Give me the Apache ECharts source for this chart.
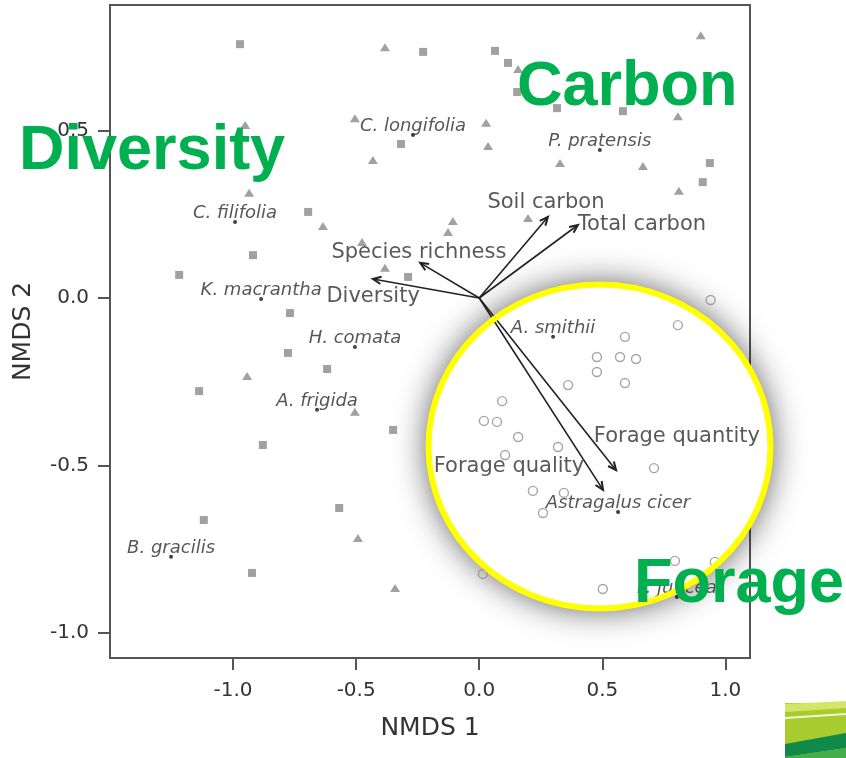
<!DOCTYPE html>
<html>
<head>
<meta charset="utf-8">
<script src="https://cdn.jsdelivr.net/npm/echarts@6/dist/echarts.min.js"></script>
<style>
  html, body { margin: 0; padding: 0; background: #fff; }
  #chart { width: 846px; height: 758px; }
</style>
</head>
<body>
<div id="chart"></div>
<script>
// Axis tick values
const xTicks = [-1.0, -0.5, 0.0, 0.5, 1.0];
const yTicks = [-1.0, -0.5, 0.0, 0.5];

// Site scores (NMDS 1, NMDS 2) by group
const squareSites = [
  [-0.972, 0.758], [-0.228, 0.735], [0.064, 0.738], [0.117, 0.702], [0.154, 0.615],
  [0.316, 0.567], [0.584, 0.558], [0.937, 0.403], [0.908, 0.346], [-0.318, 0.460],
  [-0.695, 0.257], [-0.919, 0.128], [-1.219, 0.069], [-0.289, 0.063], [-0.769, -0.045],
  [-0.777, -0.164], [-0.618, -0.212], [-1.138, -0.278], [-0.350, -0.394], [-0.879, -0.439],
  [-1.119, -0.663], [-0.569, -0.627], [-0.923, -0.821]
];
const triangleSites = [
  [-0.383, 0.749], [0.900, 0.785], [0.158, 0.684], [0.028, 0.523], [0.036, 0.454],
  [0.328, 0.403], [0.665, 0.394], [0.807, 0.543], [0.811, 0.320], [0.198, 0.239],
  [-0.951, 0.517], [-0.505, 0.537], [-0.432, 0.412], [-0.935, 0.314], [-0.635, 0.215],
  [-0.476, 0.167], [-0.383, 0.090], [-0.107, 0.230], [-0.127, 0.197], [-0.943, -0.233],
  [-0.505, -0.340], [-0.493, -0.717], [-0.342, -0.866]
];
const circleSites = [
  [0.940, -0.006], [0.807, -0.081], [0.592, -0.116], [0.478, -0.176], [0.572, -0.176],
  [0.637, -0.182], [0.478, -0.221], [0.592, -0.254], [0.361, -0.260], [0.093, -0.308],
  [0.019, -0.367], [0.072, -0.370], [0.158, -0.415], [0.320, -0.445], [0.105, -0.469],
  [0.710, -0.508], [0.218, -0.576], [0.344, -0.582], [0.259, -0.642], [0.015, -0.824],
  [0.502, -0.869], [0.795, -0.785], [0.957, -0.788]
];

// Species scores
const speciesNames = [
  'C. longifolia', 'P. pratensis', 'C. filifolia', 'K. macrantha', 'H. comata',
  'A. frigida', 'A. smithii', 'Astragalus cicer', 'B. gracilis', 'P. juncea'
];
const speciesScores = [
  [-0.269, 0.487], [0.490, 0.442], [-0.992, 0.227], [-0.886, -0.003], [-0.505, -0.146],
  [-0.659, -0.334], [0.300, -0.116], [0.564, -0.639], [-1.252, -0.773], [0.803, -0.893]
];

// Fitted environmental vectors
const vectorNames = [
  'Diversity', 'Species richness', 'Soil carbon', 'Total carbon', 'Forage quantity', 'Forage quality'
];
const vectorEnds = [
  [-0.432, 0.057], [-0.240, 0.105], [0.279, 0.242], [0.401, 0.218], [0.556, -0.514], [0.503, -0.573]
];
const vectorLabelAt = [
  [-0.431, 0.003], [-0.245, 0.137], [0.271, 0.284], [0.661, 0.218], [0.803, -0.415], [0.121, -0.502]
];

const plotFont = 'DejaVu Sans';
const markGray = '#8a8a8a';
const headFont = 'bold 63px "Liberation Sans", Arial, sans-serif';

const chart = echarts.init(document.getElementById('chart'), null, { renderer: 'canvas' });

const option = {
  backgroundColor: '#ffffff',
  animation: false,
  grid: {
    left: 110, top: 5, width: 640, height: 653,
    show: true, borderColor: '#555', borderWidth: 2, backgroundColor: 'transparent'
  },
  xAxis: {
    type: 'value', min: -1.5, max: 1.1, position: 'bottom',
    axisLine: { show: false, onZero: false },
    splitLine: { show: false },
    axisTick: { show: true, length: 12, lineStyle: { color: '#555', width: 2 }, customValues: xTicks },
    axisLabel: {
      customValues: xTicks, formatter: v => v.toFixed(1), margin: 23,
      fontSize: 20, color: '#333', fontFamily: plotFont
    },
    name: 'NMDS 1', nameLocation: 'middle', nameGap: 58,
    nameTextStyle: { fontSize: 25, color: '#333', fontFamily: plotFont }
  },
  yAxis: {
    type: 'value', min: -1.075, max: 0.875, position: 'left',
    axisLine: { show: false, onZero: false },
    splitLine: { show: false },
    axisTick: { show: true, length: 12, lineStyle: { color: '#555', width: 2 }, customValues: yTicks },
    axisLabel: {
      customValues: yTicks, formatter: v => v.toFixed(1), margin: 21,
      fontSize: 20, color: '#333', fontFamily: plotFont
    },
    name: 'NMDS 2', nameLocation: 'middle', nameGap: 74,
    nameTextStyle: { fontSize: 25, color: '#333', fontFamily: plotFont }
  },
  series: [
    {
      name: 'squares', type: 'scatter', data: squareSites, symbol: 'rect', symbolSize: 8,
      itemStyle: { color: markGray }, z: 3
    },
    {
      name: 'triangles', type: 'scatter', data: triangleSites, symbol: 'triangle', symbolSize: [10, 8],
      itemStyle: { color: markGray }, z: 3
    },
    {
      name: 'circles', type: 'scatter', data: circleSites, symbol: 'circle', symbolSize: 9,
      itemStyle: { color: 'transparent', borderColor: '#8f8f8f', borderWidth: 1.4 }, z: 3
    },
    {
      name: 'species', type: 'scatter', symbol: 'circle', symbolSize: 4,
      data: speciesScores.map((p, i) => ({ name: speciesNames[i], value: p })),
      itemStyle: { color: '#111' },
      label: {
        show: true, position: 'inside', offset: [0, -9], formatter: p => p.name,
        fontFamily: plotFont, fontStyle: 'italic', fontSize: 18, color: '#2c2c2c'
      },
      z: 4
    },
    {
      name: 'vectors', type: 'custom', z: 5,
      data: vectorEnds,
      renderItem: function (params, api) {
        const p0 = api.coord([0, 0]);
        const p1 = api.coord([api.value(0), api.value(1)]);
        const a = Math.atan2(p1[1] - p0[1], p1[0] - p0[0]);
        const len = 9, spread = 0.42;
        const h1 = [p1[0] - len * Math.cos(a - spread), p1[1] - len * Math.sin(a - spread)];
        const h2 = [p1[0] - len * Math.cos(a + spread), p1[1] - len * Math.sin(a + spread)];
        return {
          type: 'group',
          children: [
            { type: 'line', shape: { x1: p0[0], y1: p0[1], x2: p1[0], y2: p1[1] },
              style: { stroke: '#222', lineWidth: 1.6 } },
            { type: 'polyline', shape: { points: [h1, p1, h2] },
              style: { stroke: '#222', lineWidth: 2, fill: null } }
          ]
        };
      }
    },
    {
      name: 'vector labels', type: 'scatter', symbolSize: 0, z: 6,
      data: vectorLabelAt.map((p, i) => ({ name: vectorNames[i], value: p })),
      label: {
        show: true, position: 'inside', formatter: p => p.name,
        fontFamily: plotFont, fontSize: 21, color: '#2f2f2f'
      }
    }
  ],
  graphic: [
    // soft halo behind the highlighted forage region
    { type: 'ellipse', z: 1, silent: true,
      shape: { cx: 599.5, cy: 446.5, rx: 171, ry: 162 },
      style: { fill: '#ffffff', shadowBlur: 34, shadowColor: 'rgba(0,0,0,0.7)' } },
    // yellow ring
    { type: 'ellipse', z: 50, silent: true,
      shape: { cx: 599.5, cy: 446.5, rx: 171, ry: 162 },
      style: { fill: null, stroke: '#ffff00', lineWidth: 6 } },
    // headline words
    { type: 'text', z: 60, x: 19, y: 152,
      style: { text: 'Diversity', font: headFont, fill: '#00b050', verticalAlign: 'middle', align: 'left' } },
    { type: 'text', z: 60, x: 517, y: 88,
      style: { text: 'Carbon', font: headFont, fill: '#00b050', verticalAlign: 'middle', align: 'left' } },
    { type: 'text', z: 60, x: 634, y: 585,
      style: { text: 'Forage', font: headFont, fill: '#00b050', verticalAlign: 'middle', align: 'left' } },
    // striped corner emblem
    { type: 'rect', z: 60, silent: true, shape: { x: 785, y: 703, width: 61, height: 55 },
      style: { fill: '#a8cc30' } },
    { type: 'polygon', z: 61, silent: true,
      shape: { points: [[785, 704], [846, 701], [846, 708], [785, 712]] },
      style: { fill: '#d4e66a' } },
    { type: 'polyline', z: 61, silent: true,
      shape: { points: [[785, 718], [846, 714]] },
      style: { stroke: '#f3f8d2', lineWidth: 2 } },
    { type: 'polygon', z: 61, silent: true,
      shape: { points: [[785, 744], [846, 733], [846, 748], [785, 757]] },
      style: { fill: '#0f8a4a' } },
    { type: 'polygon', z: 61, silent: true,
      shape: { points: [[785, 757], [846, 748], [846, 758], [785, 758]] },
      style: { fill: '#46ad4a' } }
  ]
};

chart.setOption(option);
</script>
</body>
</html>
